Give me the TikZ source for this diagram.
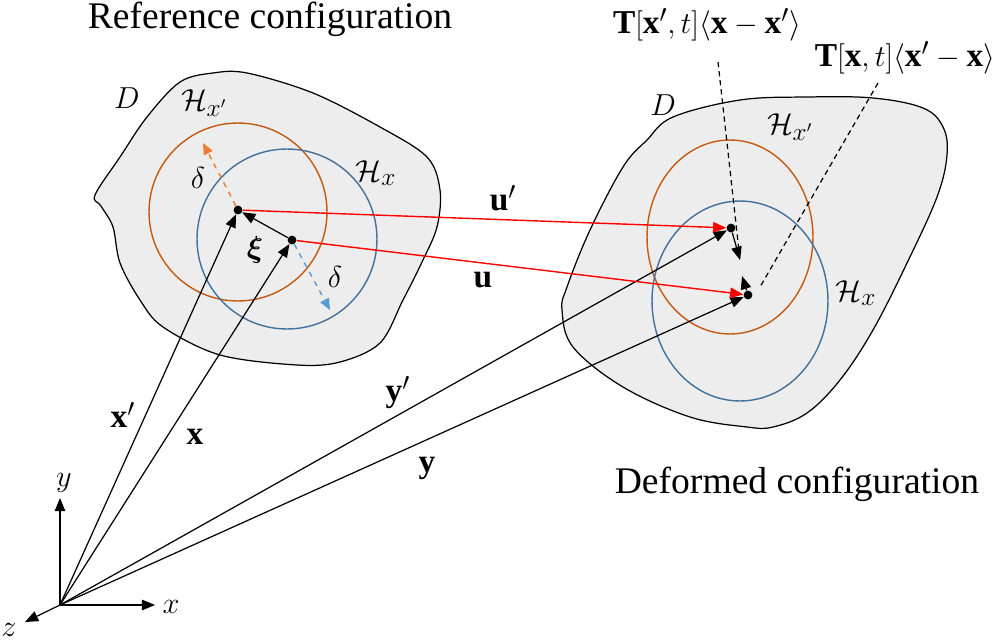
\documentclass[tikz,border=0pt]{standalone}
\usepackage{amsmath}
\usepackage{amssymb}
\usepackage{fontspec}
\setmainfont{Liberation Serif}
\usetikzlibrary{positioning,arrows.meta}

\definecolor{hxorange}{HTML}{C55A11}
\definecolor{hxblue}{HTML}{41719C}
\definecolor{dorange}{HTML}{ED7D31}
\definecolor{dblue}{HTML}{5B9BD5}
\definecolor{domgray}{HTML}{EDEDED}

\begin{document}
\begin{tikzpicture}[%
			x=0.02cm,
			y=-0.02cm,
			>={Triangle[length=7.5pt,width=6pt]},
			dot/.style={%
				circle,
				fill,
				inner sep=0pt,
				minimum size=5pt
			},
			vec/.style={->,line width=0.7pt},
			disp/.style={->,line width=0.8pt,red},
			body/.style={draw,fill=domgray,line width=0.7pt},
			hood/.style={line width=0.8pt},
			radline/.style={->,dashed,line width=0.8pt,>={Triangle[length=6.5pt,width=5.5pt]}},
			force/.style={dash pattern=on 3pt off 2.2pt,line width=0.7pt},
			lbl/.style={font=\fontsize{19}{22}\selectfont,inner sep=1pt},
			title/.style={font=\fontsize{21.4}{25}\selectfont,inner sep=1pt}
			]
			\useasboundingbox (0,0) rectangle (1000,642);
			
			% bodies
			\path[body] plot[smooth cycle,tension=0.55] coordinates {(95,195) (120,157) (147,117) (180,82) (213,73) (247,73) (313,93) (380,127) (427,157) (440,190) (437,227) (422,262) (403,300) (380,343) (340,362) (297,365) (220,355) (163,327) (140,300) (120,263) (113,227) (101,206)};
			\path[body] plot[smooth cycle,tension=0.6] coordinates {(673,117) (740,100) (807,97) (873,98) (923,108) (943,127) (947,155) (937,197) (907,263) (873,330) (840,380) (807,413) (773,427) (747,427) (690,417) (623,387) (573,347) (562,310) (567,287) (590,230) (623,167) (647,140)};
			
			% horizons
			\draw[hood,hxorange] (238,212) circle [radius=1.78cm];
			\draw[hood,hxblue] (287,239) circle [radius=1.8cm];
			\draw[hood,hxorange] (730,237) ellipse [x radius=1.66cm,y radius=1.94cm];
			\draw[hood,hxblue] (740,301) ellipse [x radius=1.76cm,y radius=2cm];
			
			% points
			\coordinate (O) at (60,605);
			\node[dot] (xp) at (238,210) {};
			\node[dot] (xx) at (292,240) {};
			\node[dot] (yp) at (731,228) {};
			\node[dot] (yy) at (748,295) {};
			\coordinate (dtop) at (203,143);
			\coordinate (dbot) at (330,310);
			\coordinate (tyy) at (742,276);
			\coordinate (tp1) at (718,62);
			\coordinate (tp2) at (740,260);
			\coordinate (tq1) at (878,83);
			\coordinate (tq2) at (760,287);
			\coordinate (ax) at (155,605);
			\coordinate (ay) at (60,498);
			\coordinate (az) at (25,622);
			
			% axes
			\draw[vec] (O) -- (ax);
			\draw[vec] (O) -- (ay);
			\draw[vec] (O) -- (az);
			\node[lbl] at (171,607) {$x$};
			\node[lbl] at (64,483) {$y$};
			\node[lbl] at (9,630) {$z$};
			
			% position vectors
			\draw[vec] (O) -- (xp);
			\draw[vec] (O) -- (xx);
			\draw[vec] (O) -- (yp);
			\draw[vec] (O) -- (yy);
			\draw[vec] (xx) -- (xp);
			\draw[vec] (yp) -- (tp2);
			\draw[vec] (yy) -- (tyy);
			
			% horizon radii
			\draw[radline,dorange] (xp) -- (dtop);
			\draw[radline,dblue] (xx) -- (dbot);
			
			% displacements
			\draw[disp] (xp) -- (yp);
			\draw[disp] (xx) -- (yy);
			
			% force states
			\draw[force] (tp1) -- (tp2);
			\draw[force] (tq1) -- (tq2);
			
			% labels
			\node[title] at (270,19) {Reference configuration};
			\node[title] at (797,484) {Deformed configuration};
			\node[lbl] at (127,98) {$D$};
			\node[lbl] at (663,105) {$D$};
			\node[lbl] at (204,103) {$\mathcal{H}_{x'}$};
			\node[lbl] at (376,173) {$\mathcal{H}_{x}$};
			\node[lbl] at (790,127) {$\mathcal{H}_{x'}$};
			\node[lbl] at (856,293) {$\mathcal{H}_{x}$};
			\node[lbl] at (198,178) {$\delta$};
			\node[lbl] at (335,277) {$\delta$};
			\node[lbl] at (255,250) {$\boldsymbol{\xi}$};
			\node[lbl] at (503,198) {$\mathbf{u}'$};
			\node[lbl] at (483,280) {$\mathbf{u}$};
			\node[lbl] at (123,415) {$\mathbf{x}'$};
			\node[lbl] at (195,437) {$\mathbf{x}$};
			\node[lbl] at (398,393) {$\mathbf{y}'$};
			\node[lbl] at (427,468) {$\mathbf{y}$};
			\node[lbl] at (707,25) {$\mathbf{T}[\mathbf{x}',t]\langle\mathbf{x}-\mathbf{x}'\rangle$};
			\node[lbl] at (905,58) {$\mathbf{T}[\mathbf{x},t]\langle\mathbf{x}'-\mathbf{x}\rangle$};
\end{tikzpicture}
\end{document}
